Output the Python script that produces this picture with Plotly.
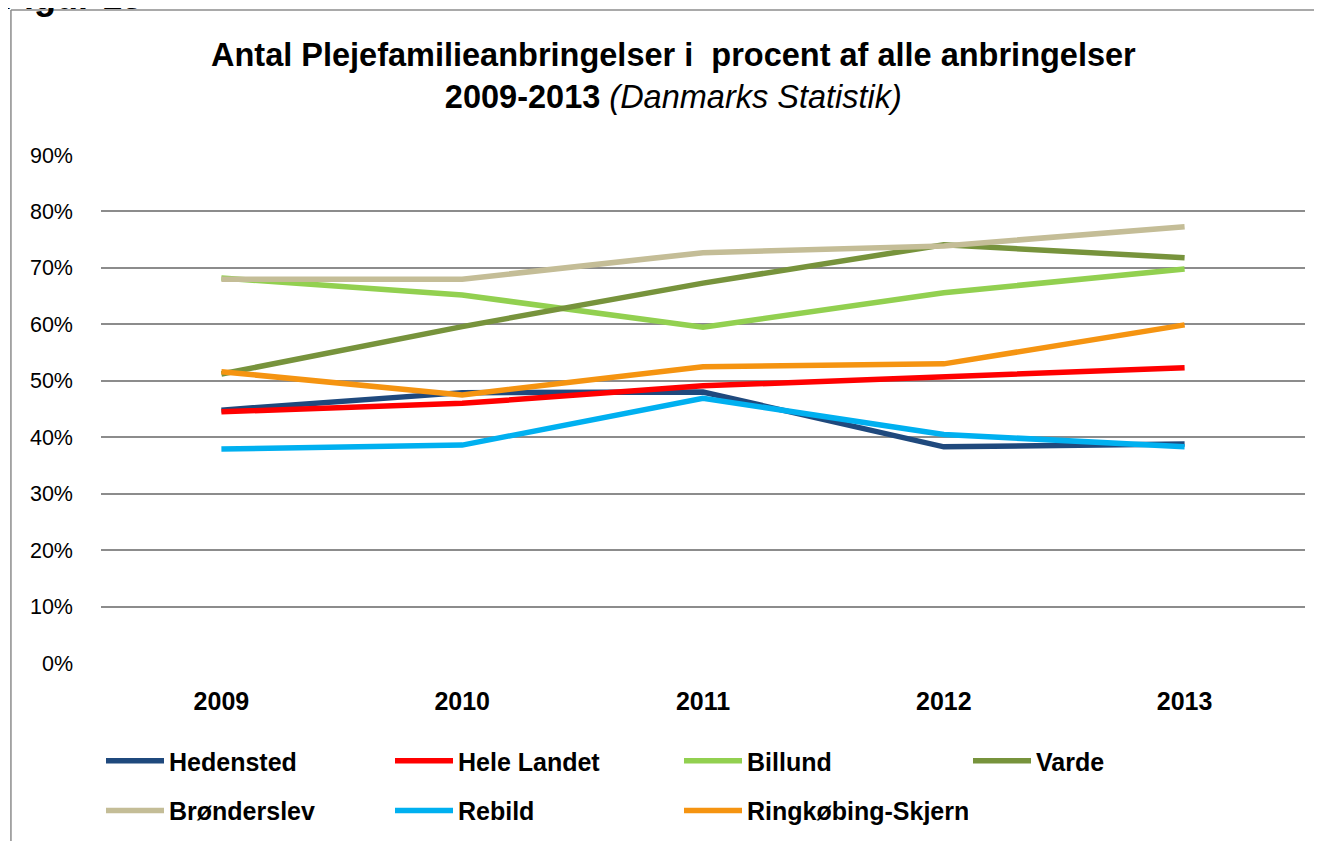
import plotly.graph_objects as go

years = ["2009", "2010", "2011", "2012", "2013"]
series_names = ["Hedensted", "Hele Landet", "Billund", "Varde", "Brønderslev", "Rebild", "Ringkøbing-Skjern"]
hedensted = [0.448, 0.479, 0.480, 0.383, 0.388]
hele_landet = [0.445, 0.460, 0.491, 0.507, 0.523]
billund = [0.682, 0.652, 0.595, 0.656, 0.698]
varde = [0.512, 0.596, 0.673, 0.741, 0.718]
bronderslev = [0.680, 0.680, 0.727, 0.739, 0.773]
rebild = [0.379, 0.386, 0.469, 0.405, 0.383]
ringkobing = [0.516, 0.475, 0.525, 0.530, 0.599]
values = [hedensted, hele_landet, billund, varde, bronderslev, rebild, ringkobing]
colors = ["#1F497D", "#FF0000", "#92D050", "#77933C", "#C4BD97", "#00B0F0", "#F59411"]
legend_rows = ["legend", "legend", "legend", "legend", "legend2", "legend2", "legend2"]
y_ticks = [0, 0.1, 0.2, 0.3, 0.4, 0.5, 0.6, 0.7, 0.8, 0.9]

FONT = "Liberation Sans, Arial, sans-serif"

fig = go.Figure()
for name, vals, col, lg in zip(series_names, values, colors, legend_rows):
    fig.add_trace(go.Scatter(x=years, y=vals, name=name, mode="lines",
                             line=dict(color=col, width=5.5), legend=lg))

legend_common = dict(orientation="h", xanchor="left", yanchor="middle",
                     entrywidth=216, entrywidthmode="pixels", itemwidth=58,
                     font=dict(size=25, family=FONT, color="black", weight="bold"),
                     bgcolor="rgba(0,0,0,0)")

fig.update_layout(
    width=1314, height=833,
    margin=dict(l=93, r=17, t=147, b=178, autoexpand=False),
    paper_bgcolor="white", plot_bgcolor="white",
    font=dict(family=FONT, color="black"),
    showlegend=True,
    legend=dict(x=0.0, y=-0.193, **legend_common),
    legend2=dict(x=0.0, y=-0.291, **legend_common),
    xaxis=dict(type="category", range=[-0.5, 4.5], showgrid=False, zeroline=False,
               showline=False, ticks="", ticklabelstandoff=21,
               tickfont=dict(size=25, family=FONT, color="black", weight="bold")),
    yaxis=dict(range=[0, 0.9], tickvals=y_ticks, tickformat=".0%", showgrid=True,
               gridcolor="#8C8C8C", gridwidth=1.5, zeroline=False, showline=False,
               ticks="", ticklabelstandoff=27,
               tickfont=dict(size=21.5, family=FONT, color="black")),
    annotations=[
        dict(text="<b>Antal Plejefamilieanbringelser i  procent af alle anbringelser</b><br><b>2009-2013</b> <i>(Danmarks Statistik)</i>",
             xref="paper", yref="paper", x=0.4755, y=(663 - 76) / 508, xanchor="center", yanchor="middle",
             showarrow=False, font=dict(size=32.5, family=FONT, color="black")),
        dict(text="<b>Figur 13</b>", xref="paper", yref="paper", x=-0.0839, y=(663 - 19) / 508,
             xanchor="left", yanchor="bottom", showarrow=False,
             font=dict(size=36, family=FONT, color="black")),
    ],
    shapes=[
        dict(type="line", xref="paper", yref="paper", x0=-0.0748, x1=1.02, y0=1.2854, y1=1.2854,
             line=dict(color="#8C8C8C", width=1.5)),
        dict(type="line", xref="paper", yref="paper", x0=-0.0748, x1=-0.0748, y0=1.2854, y1=-0.36,
             line=dict(color="#8C8C8C", width=1.5)),
    ],
)

fig.write_html("out.html")
